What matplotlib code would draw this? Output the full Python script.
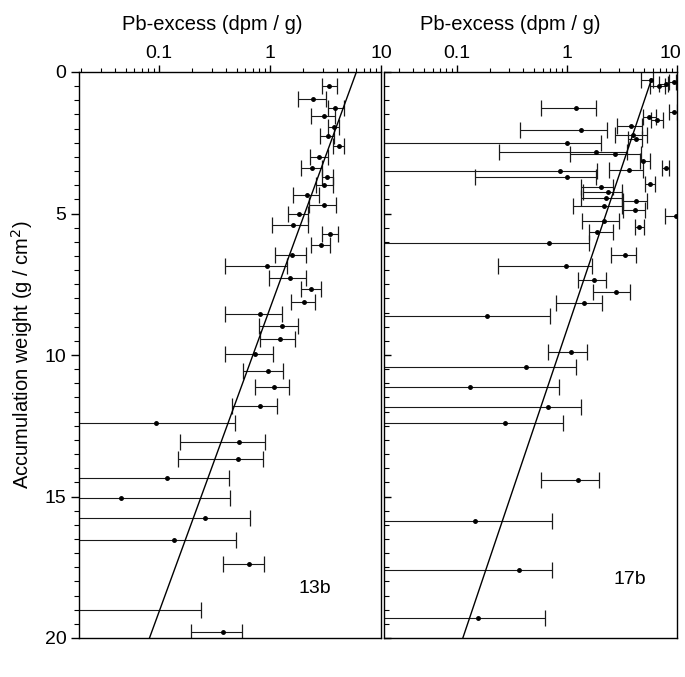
import numpy as np
import matplotlib
matplotlib.use("Agg")
import matplotlib.pyplot as plt
import matplotlib.transforms as mtransforms
from matplotlib.ticker import FixedLocator, MultipleLocator, LogLocator, NullFormatter, FixedFormatter

plt.rcParams['font.family'] = ['Liberation Sans', 'DejaVu Sans']

# ---- core 13b ----
depth_13b = [0.48, 0.95, 1.28, 1.56, 1.95, 2.27, 2.62, 3.02, 3.38, 3.72, 4.00, 4.33, 4.69,
             5.03, 5.39, 5.73, 6.12, 6.48, 6.86, 7.29, 7.68, 8.13, 8.54, 8.97, 9.44, 9.97,
             10.56, 11.14, 11.81, 12.40, 13.08, 13.69, 14.36, 15.06, 15.76, 16.52, 17.39,
             19.0, 19.8]
pb_13b = [3.41, 2.45, 3.84, 3.07, 3.79, 3.30, 4.20, 2.77, 2.41, 3.25, 3.07, 2.17, 3.07,
          1.83, 1.62, 3.48, 2.87, 1.57, 0.93, 1.52, 2.33, 2.03, 0.81, 1.29, 1.22, 0.73,
          0.95, 1.09, 0.81, 0.093, 0.53, 0.51, 0.118, 0.045, 0.257, 0.136, 0.64,
          0.012, 0.38]
lo_13b = [2.97, 1.77, 3.30, 2.36, 3.30, 2.83, 3.73, 2.30, 1.92, 2.97, 2.59, 1.62, 2.25,
          1.46, 1.05, 2.91, 2.33, 1.11, 0.39, 0.97, 1.89, 1.56, 0.39, 0.80, 0.81, 0.39,
          0.57, 0.73, 0.45, 0.001, 0.156, 0.149, 0.001, 0.001, 0.001, 0.001, 0.376,
          0.001, 0.193]
hi_13b = [4.00, 3.18, 4.60, 3.84, 4.20, 3.79, 4.66, 3.30, 2.97, 3.73, 3.66, 2.77, 3.92,
          2.20, 2.20, 4.11, 3.48, 2.10, 1.43, 2.10, 2.87, 2.53, 1.27, 1.80, 1.67, 1.06,
          1.32, 1.49, 1.16, 0.48, 0.90, 0.86, 0.43, 0.44, 0.66, 0.49, 0.88,
          0.24, 0.56]
fit_13b_depth = [0.0, 20.0]
fit_13b_pb = [6.0, 0.082]

# ---- core 17b ----
depth_17b = [0.28, 0.37, 0.42, 0.50, 1.28, 1.40, 1.60, 1.69, 1.91, 2.06, 2.24, 2.38, 2.51,
             2.82, 2.91, 3.16, 3.38, 3.47, 3.49, 3.72, 3.94, 4.05, 4.25, 4.44, 4.55, 4.74,
             4.89, 5.08, 5.26, 5.48, 5.67, 6.04, 6.48, 6.86, 7.34, 7.76, 8.16, 8.63,
             9.89, 10.41, 11.12, 11.82, 12.40, 14.40, 15.87, 17.58, 19.28]
pb_17b = [5.78, 9.33, 7.9, 6.88, 1.21, 9.3, 5.58, 6.59, 3.81, 1.34, 4.0, 4.2, 0.99,
          1.84, 2.73, 4.93, 7.9, 3.68, 0.86, 0.99, 5.66, 2.03, 2.38, 2.27, 4.28, 2.19,
          4.14, 9.8, 2.17, 4.53, 1.87, 0.68, 3.37, 0.97, 1.77, 2.79, 1.43, 0.187,
          1.09, 0.424, 0.132, 0.67, 0.275, 1.26, 0.147, 0.364, 0.155]
lo_17b = [4.66, 8.47, 6.88, 5.66, 0.58, 8.5, 4.93, 5.86, 2.83, 0.373, 2.73, 3.61, 0.001,
          0.24, 1.06, 4.6, 7.37, 2.43, 0.001, 0.146, 5.1, 1.34, 1.41, 1.34, 3.2, 1.13,
          3.2, 7.7, 1.37, 4.14, 1.57, 0.001, 2.5, 0.238, 1.27, 1.74, 0.8, 0.001,
          0.667, 0.001, 0.001, 0.001, 0.001, 0.58, 0.001, 0.001, 0.001]
hi_17b = [6.07, 9.86, 8.3, 7.74, 1.84, 9.9, 6.42, 7.47, 4.76, 2.33, 5.3, 4.76, 2.04,
          3.48, 4.66, 5.66, 8.47, 4.93, 1.87, 1.84, 6.3, 2.64, 3.14, 3.14, 5.35, 3.14,
          5.1, 12.0, 2.99, 5.0, 2.6, 1.6, 4.28, 1.68, 2.27, 3.73, 2.07, 0.70,
          1.52, 1.21, 0.84, 1.35, 0.92, 1.94, 0.73, 0.73, 0.635]
fit_17b_depth = [0.26, 20.0]
fit_17b_pb = [5.86, 0.113]

x_ticks = [0.1, 1, 10]
x_ticklabels = ['0.1', '1', '10']
y_ticks = [0, 5, 10, 15, 20]
x_label = 'Pb-excess (dpm / g)'
y_label = 'Accumulation weight (g / cm$^2$)'

W, H = 685, 677
fig = plt.figure(figsize=(W / 100, H / 100), dpi=100)
top, bot = 72, 638
ax1 = fig.add_axes([79 / W, 1 - bot / H, (381 - 79) / W, (bot - top) / H])
ax2 = fig.add_axes([384 / W, 1 - bot / H, (677 - 384) / W, (bot - top) / H])


def draw(ax, d, v, lo, hi, fd, fv, xmin, tag, tagpos):
    d = np.array(d); v = np.array(v); lo = np.array(lo); hi = np.array(hi)
    ax.errorbar(v, d, xerr=[v - lo, hi - v], fmt='o', ms=2.5, color='black',
                ecolor='#1a1a1a', elinewidth=0.8, capsize=6, capthick=0.9)
    ax.plot(fv, fd, color='black', lw=1.0)
    ax.set_xscale('log')
    ax.set_xlim(xmin, 10)
    ax.set_ylim(20, 0)
    ax.xaxis.tick_top()
    ax.xaxis.set_major_locator(FixedLocator(x_ticks))
    ax.xaxis.set_major_formatter(FixedFormatter(x_ticklabels))
    ax.xaxis.set_minor_locator(LogLocator(base=10, subs=np.arange(2, 10), numticks=20))
    ax.xaxis.set_minor_formatter(NullFormatter())
    ax.tick_params(axis='x', which='major', direction='out', length=5, width=1.0,
                   labelsize=14, pad=2.5)
    ax.tick_params(axis='x', which='minor', direction='out', length=3, width=0.8)
    ax.yaxis.set_major_locator(FixedLocator(y_ticks))
    ax.yaxis.set_minor_locator(MultipleLocator(0.5))
    for s in ax.spines.values():
        s.set_linewidth(1.0)
    ax.text(tagpos[0], tagpos[1], tag, fontsize=14, ha='left', va='center')


draw(ax1, depth_13b, pb_13b, lo_13b, hi_13b, fit_13b_depth, fit_13b_pb, 0.019, '13b', (1.8, 18.25))
draw(ax2, depth_17b, pb_17b, lo_17b, hi_17b, fit_17b_depth, fit_17b_pb, 0.0217, '17b', (2.66, 17.95))

ax1.tick_params(axis='y', which='major', direction='out', length=6, width=1.0, labelsize=14, pad=3)
ax1.tick_params(axis='y', which='minor', direction='out', length=3.5, width=0.8)
ax2.tick_params(axis='y', which='major', direction='in', length=5, width=1.0, labelleft=False)
ax2.tick_params(axis='y', which='minor', direction='in', length=3.5, width=0.8)

# keep the right-most "10" inside the picture
fig.canvas.draw()
shift = mtransforms.ScaledTranslation(-7 / 100, 0, fig.dpi_scale_trans)
lab = ax2.xaxis.get_majorticklabels()[-1]
lab.set_transform(lab.get_transform() + shift)

fig.text(212 / W, 1 - 24 / H, x_label, fontsize=14.5, ha='center', va='center')
fig.text(510 / W, 1 - 24 / H, x_label, fontsize=14.5, ha='center', va='center')
fig.text(22 / W, 1 - 355 / H, y_label, fontsize=14.5, ha='center', va='center', rotation=90)

fig.savefig('out.png', dpi=100)
